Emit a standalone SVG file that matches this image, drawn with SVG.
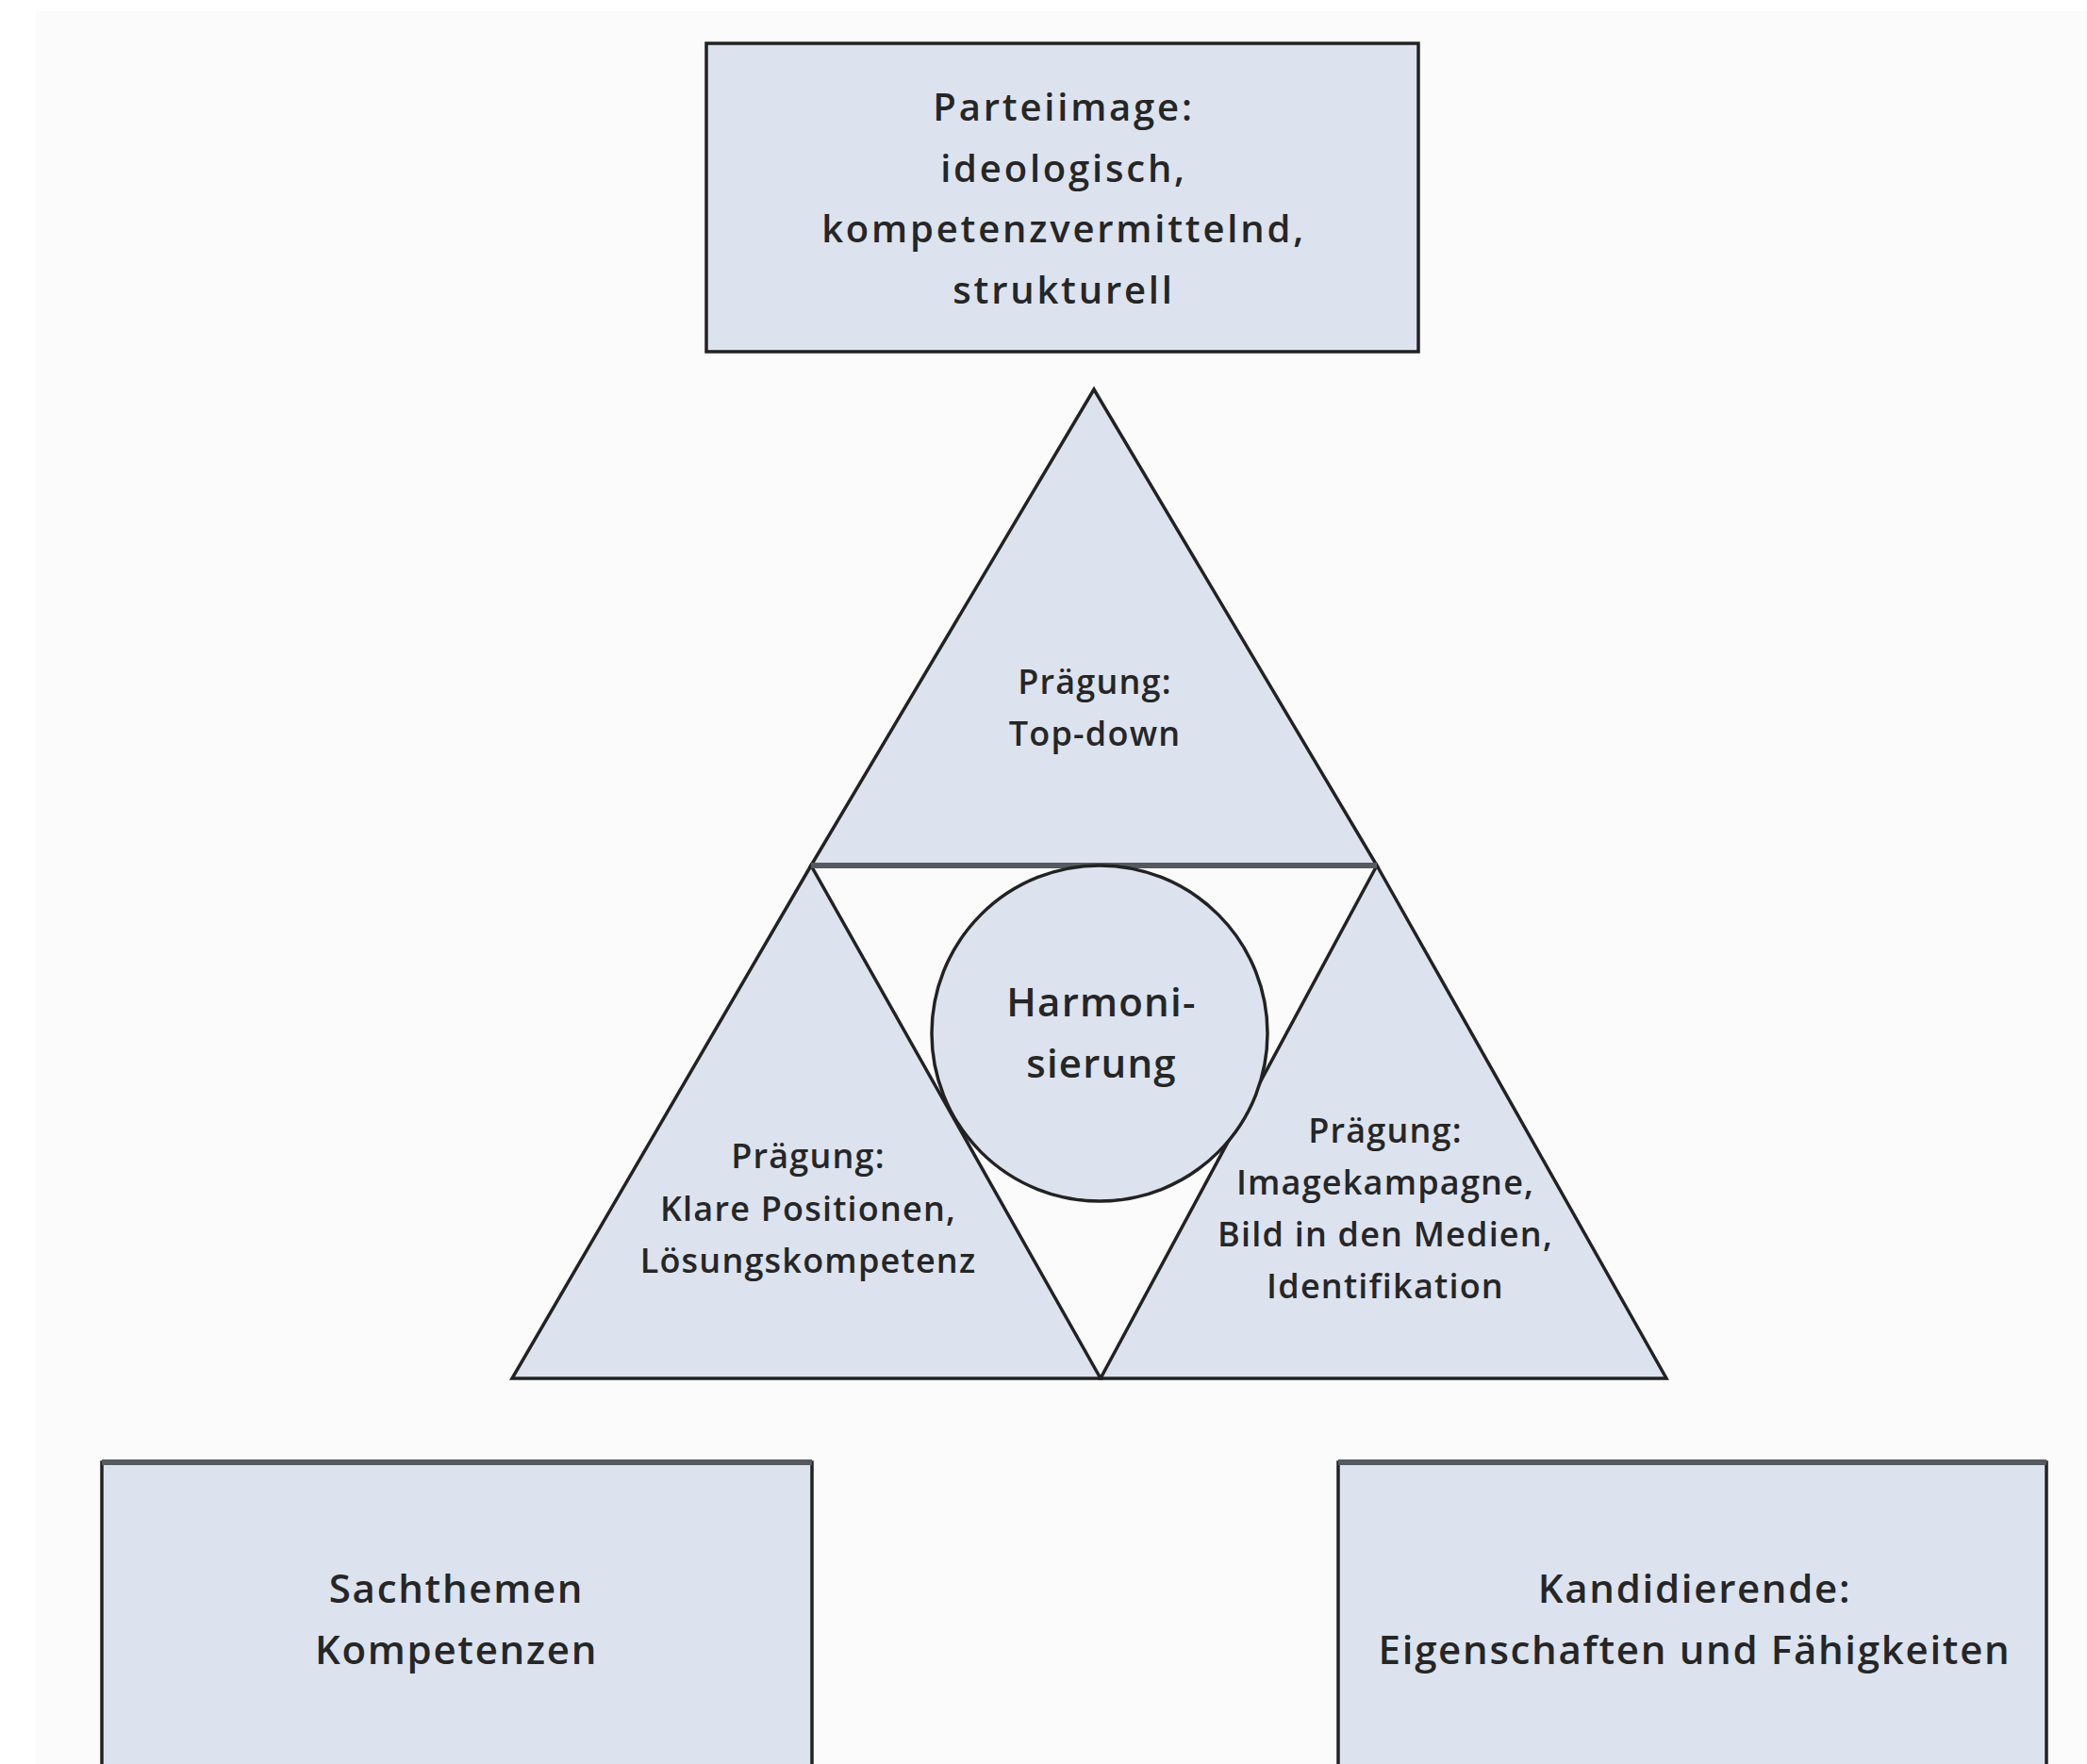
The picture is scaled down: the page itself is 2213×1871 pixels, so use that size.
<svg xmlns="http://www.w3.org/2000/svg" width="2213" height="1871" viewBox="0 0 2213 1871">
<style>
  .shape { fill: #dce3ef; stroke: #222222; stroke-width: 3.5; stroke-linejoin: miter; }
  .thick { stroke: #555a60; stroke-width: 6; fill: none; }
  .t { font-family: "Open Sans", "Noto Sans", sans-serif; font-weight: 600; fill: #262626; text-anchor: middle; }
  .big { font-size: 40px; letter-spacing: 2.8px; }
  .mid { font-size: 36px; letter-spacing: 1.2px; }
  .circ { font-size: 42px; letter-spacing: 1.2px; }
  .box { font-size: 42px; letter-spacing: 1.7px; }
</style>
<rect x="0" y="0" width="2213" height="1871" fill="#ffffff"/>
<rect x="38" y="12" width="2175" height="1859" fill="#fbfbfb"/>

<g id="parteiimage">
  <rect class="shape" x="749" y="46" width="755" height="327" stroke-width="4"/>
  <text class="t big" x="1128" y="128">Parteiimage:</text>
  <text class="t big" x="1128" y="193">ideologisch,</text>
  <text class="t big" x="1128" y="257">kompetenzvermittelnd,</text>
  <text class="t big" x="1128" y="322">strukturell</text>
</g>

<g id="praegung-topdown">
  <polygon class="shape" points="1160,413 860,918 1460,918"/>
  <text class="t mid" x="1161" y="736">Prägung:</text>
  <text class="t mid" x="1161" y="791">Top-down</text>
</g>

<g id="praegung-positionen">
  <polygon class="shape" points="860,918 543,1462 1167,1462"/>
  <text class="t mid" x="857" y="1239">Prägung:</text>
  <text class="t mid" x="857" y="1295">Klare Positionen,</text>
  <text class="t mid" x="857" y="1350">Lösungskompetenz</text>
</g>

<g id="praegung-image">
  <polygon class="shape" points="1460,918 1167,1462 1767,1462"/>
  <text class="t mid" x="1469" y="1212">Prägung:</text>
  <text class="t mid" x="1469" y="1267">Imagekampagne,</text>
  <text class="t mid" x="1469" y="1322">Bild in den Medien,</text>
  <text class="t mid" x="1469" y="1377">Identifikation</text>
</g>

<g id="divider">
  <line class="thick" x1="860" y1="918" x2="1460" y2="918"/>
</g>

<g id="harmonisierung">
  <circle class="shape" cx="1166" cy="1096" r="178"/>
  <text class="t circ" x="1168" y="1078">Harmoni-</text>
  <text class="t circ" x="1168" y="1143">sierung</text>
</g>

<g id="sachthemen">
  <path d="M108,1871 V1551 H861 V1871" class="shape" stroke-width="2.5"/>
  <line class="thick" x1="108" y1="1551" x2="861" y2="1551"/>
  <text class="t box" x="484" y="1700">Sachthemen</text>
  <text class="t box" x="484" y="1765">Kompetenzen</text>
</g>

<g id="kandidierende">
  <path d="M1419,1871 V1551 H2170 V1871" class="shape" stroke-width="2.5"/>
  <line class="thick" x1="1419" y1="1551" x2="2170" y2="1551"/>
  <text class="t box" x="1797" y="1700">Kandidierende:</text>
  <text class="t box" x="1797" y="1765">Eigenschaften und Fähigkeiten</text>
</g>

<g id="connectors"></g>
</svg>
